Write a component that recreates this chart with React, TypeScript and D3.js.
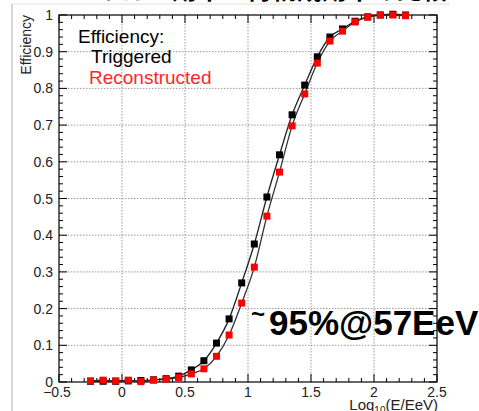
import React from "react";
import * as d3 from "d3";

// Bin centres of log10(E/EeV)
const logE = [
  -0.25, -0.15, -0.05, 0.05, 0.15, 0.25, 0.35, 0.45, 0.55, 0.65, 0.75, 0.85, 0.95,
  1.05, 1.15, 1.25, 1.35, 1.45, 1.55, 1.65, 1.75, 1.85, 1.95, 2.05, 2.15, 2.25,
];
// Trigger efficiency per bin
const triggered = [
  0.002, 0.002, 0.002, 0.003, 0.004, 0.006, 0.009, 0.016, 0.033, 0.058, 0.106, 0.172, 0.27,
  0.376, 0.504, 0.619, 0.728, 0.809, 0.886, 0.94, 0.962, 0.983, 0.995, 1.0, 1.002, 1.0,
];
// Reconstruction efficiency per bin
const reconstructed = [
  0.003, 0.005, 0.003, 0.005, 0.001, 0.005, 0.008, 0.012, 0.022, 0.036, 0.07, 0.128, 0.215,
  0.313, 0.452, 0.572, 0.698, 0.785, 0.869, 0.929, 0.956, 0.981, 0.994, 1.0, 1.0, 0.998,
];

const xTicks = [-0.5, 0, 0.5, 1, 1.5, 2, 2.5];
const yTicks = [0, 0.1, 0.2, 0.3, 0.4, 0.5, 0.6, 0.7, 0.8, 0.9, 1];

const W = 479;
const H = 411;
const FONT = "'Liberation Sans', Arial, Helvetica, sans-serif";

export default function App() {
  const x = d3.scaleLinear().domain([-0.5, 2.5]).range([59, 437]);
  const y = d3.scaleLinear().domain([0, 1]).range([382, 15]);
  const [x0, x1] = x.range();
  const [y0, y1] = y.range();

  const xMinor = d3.range(-0.5, 2.5001, 0.1);
  const yMinor = d3.range(0, 1.0001, 0.02);

  const line = d3
    .line<[number, number]>()
    .x((d) => x(d[0]))
    .y((d) => y(d[1]))
    .curve(d3.curveMonotoneX);

  const trigPts = logE.map((e, i) => [e, triggered[i]] as [number, number]);
  const recoPts = logE.map((e, i) => [e, reconstructed[i]] as [number, number]);

  const fmt = (v: number) => (v < 0 ? "\u2212" + Math.abs(v) : String(v));
  const ms = 7;

  return (
    <svg
      width={W}
      height={H}
      style={{ position: "absolute", left: 0, top: 0, background: "#fff" }}
    >
      {/* slide title, mostly off the top edge */}
      <text
        x={72}
        y={-1}
        fontFamily="'Noto Sans CJK JP', sans-serif"
        fontWeight="bold"
        fontSize={25}
        fill="#000"
      >
        トリガー効率・再構成効率の比較
      </text>
      <line x1={12} y1={4} x2={12} y2={H} stroke="#c8c8c8" strokeWidth={1.5} />
      <line x1={12} y1={4} x2={450} y2={4} stroke="#e0e0e0" strokeWidth={1} />

      {/* grid */}
      <g stroke="#9a9a9a" strokeWidth={1} strokeDasharray="1.5,1.5">
        {xTicks.slice(1, -1).map((t) => (
          <line key={"gx" + t} x1={x(t)} x2={x(t)} y1={y1} y2={y0} />
        ))}
        {yTicks.slice(1, -1).map((t) => (
          <line key={"gy" + t} x1={x0} x2={x1} y1={y(t)} y2={y(t)} />
        ))}
      </g>

      {/* ticks on all four sides, pointing inward */}
      <g stroke="#000" strokeWidth={1}>
        {xMinor.map((t, i) => {
          const major = i % 5 === 0;
          const len = major ? 8 : 4;
          return (
            <g key={"tx" + i}>
              <line x1={x(t)} x2={x(t)} y1={y0} y2={y0 - len} />
              <line x1={x(t)} x2={x(t)} y1={y1} y2={y1 + len} />
            </g>
          );
        })}
        {yMinor.map((t, i) => {
          const major = i % 5 === 0;
          const len = major ? 8 : 4;
          return (
            <g key={"ty" + i}>
              <line x1={x0} x2={x0 + len} y1={y(t)} y2={y(t)} />
              <line x1={x1} x2={x1 - len} y1={y(t)} y2={y(t)} />
            </g>
          );
        })}
      </g>
      <rect
        x={x0}
        y={y1}
        width={x1 - x0}
        height={y0 - y1}
        fill="none"
        stroke="#000"
        strokeWidth={1.2}
      />

      {/* tick labels */}
      <g fontFamily={FONT} fontSize={14} fill="#222">
        {yTicks.map((t) => (
          <text key={"ly" + t} x={53} y={y(t) + 5} textAnchor="end">
            {String(t)}
          </text>
        ))}
        {xTicks.map((t) => (
          <text key={"lx" + t} x={x(t) - (t < 0 ? 2 : 0)} y={397} textAnchor="middle">
            {fmt(t)}
          </text>
        ))}
      </g>

      {/* axis titles */}
      <text
        transform={`translate(31, ${y1}) rotate(-90)`}
        textAnchor="end"
        fontFamily={FONT}
        fontSize={14}
        fill="#222"
      >
        Efficiency
      </text>
      <text x={438} y={410} textAnchor="end" fontFamily={FONT} fontSize={15} fill="#222">
        Log
        <tspan fontSize={10} dy={4}>10</tspan>
        <tspan dy={-4}>(E/EeV)</tspan>
      </text>

      {/* curves */}
      <path d={line(recoPts) ?? ""} fill="none" stroke="#333" strokeWidth={1.3} />
      <path d={line(trigPts) ?? ""} fill="none" stroke="#222" strokeWidth={1.3} />

      {/* markers */}
      {trigPts.map((d, i) => (
        <rect
          key={"mt" + i}
          x={x(d[0]) - ms / 2}
          y={y(d[1]) - ms / 2}
          width={ms}
          height={ms}
          fill="#000"
        />
      ))}
      {recoPts.map((d, i) => (
        <rect
          key={"mr" + i}
          x={x(d[0]) - ms / 2}
          y={y(d[1]) - ms / 2}
          width={ms}
          height={ms}
          fill="#ff0000"
        />
      ))}

      {/* legend */}
      <g fontFamily={FONT} fontSize={19}>
        <text x={78} y={43} fill="#000">Efficiency:</text>
        <text x={91} y={63} fill="#000">Triggered</text>
        <text x={89} y={84} fill="#ff2626">Reconstructed</text>
      </g>

      {/* annotation */}
      <text fontFamily={FONT} fontWeight="bold" fontSize={35} fill="#000">
        <tspan x={251} y={322} fontSize={24}>~</tspan>
        <tspan x={269} y={335}>95%@57EeV</tspan>
      </text>
    </svg>
  );
}
